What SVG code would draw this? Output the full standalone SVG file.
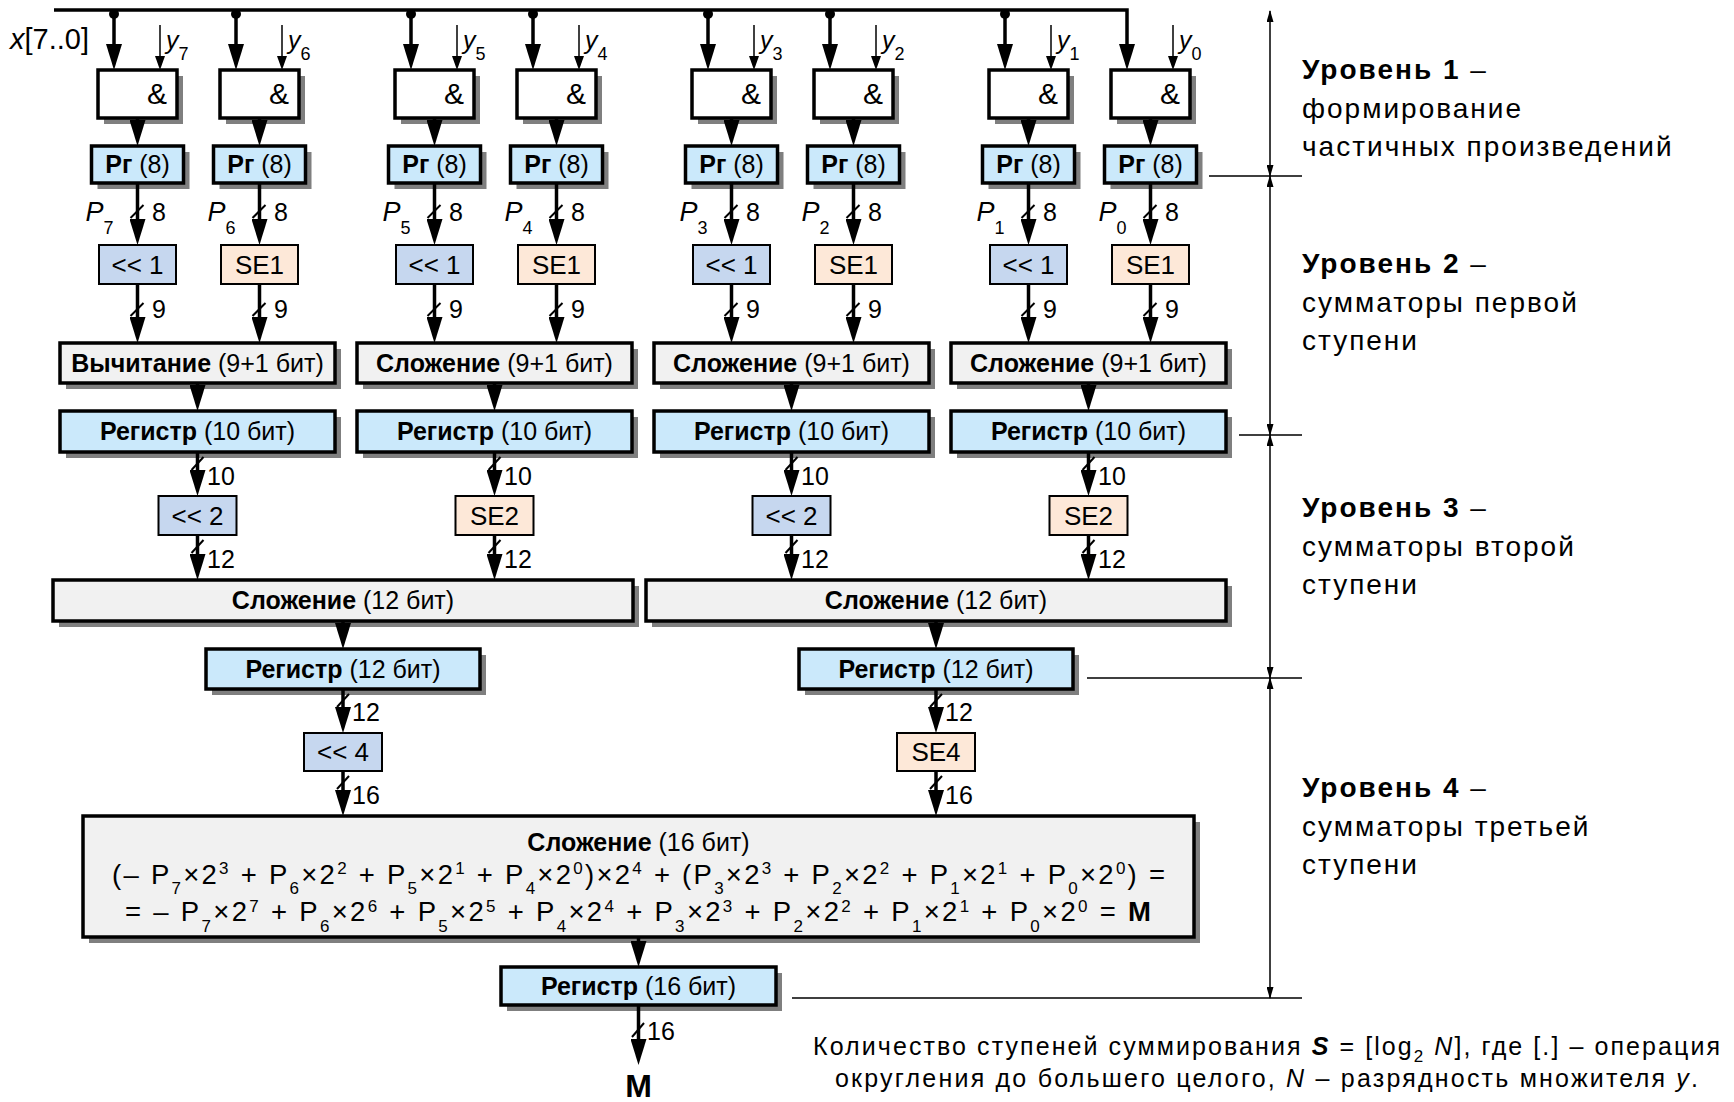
<svg xmlns="http://www.w3.org/2000/svg" width="1734" height="1102" viewBox="0 0 1734 1102">
<style>
text{font-family:"Liberation Sans",Arial,sans-serif;font-size:25px;fill:#000}
.c{text-anchor:middle}
.b{font-weight:bold}
.i{font-style:italic}
.sh{fill:#7f7f7f}
.bx{stroke:#000;stroke-width:3.5}
.sm{stroke:#000;stroke-width:2}
.and{fill:#fff}
.reg{fill:#cbe9fb}
.shl{fill:#c6d7ef}
.se{fill:#fde8d8}
.add{fill:#f1f1f1}
.amp{font-size:30px;text-anchor:middle}
.lb{font-size:26px}
.sub{font-size:18px}
.w{stroke:#000;stroke-width:3.5;fill:none;marker-end:url(#ah)}
.t{stroke:#000;stroke-width:1.5;fill:none;marker-end:url(#at)}
.sl{stroke:#000;stroke-width:2}
.dim{stroke:#000;stroke-width:1.5;fill:none}
.dv{stroke:#000;stroke-width:1.5;fill:none;marker-start:url(#ad);marker-end:url(#ad)}
.rl{font-size:28px;letter-spacing:2px}
.f{font-size:27.5px}
.fs{font-size:17px}
</style>
<defs>
<marker id="ah" markerUnits="userSpaceOnUse" viewBox="0 0 26 16" markerWidth="26" markerHeight="16" refX="6" refY="8" orient="auto"><path d="M0,0 L26,8 L0,16 Z" fill="#000"/></marker>
<marker id="at" markerUnits="userSpaceOnUse" viewBox="0 0 14 10" markerWidth="14" markerHeight="10" refX="3" refY="5" orient="auto"><path d="M0,0 L14,5 L0,10 Z" fill="#000"/></marker>
<marker id="ad" markerUnits="userSpaceOnUse" viewBox="0 0 12 7" markerWidth="12" markerHeight="7" refX="11" refY="3.5" orient="auto-start-reverse"><path d="M0,0 L12,3.5 L0,7 Z" fill="#000"/></marker>
</defs>

<!-- Level 1: AND gates -->
<g id="and7"><rect class="sh" x="104" y="76" width="79" height="48"/><rect class="bx and" x="98" y="70" width="79" height="48"/><text class="amp" x="157" y="104">&amp;</text></g>
<g id="and6"><rect class="sh" x="226" y="76" width="79" height="48"/><rect class="bx and" x="220" y="70" width="79" height="48"/><text class="amp" x="279" y="104">&amp;</text></g>
<g id="and5"><rect class="sh" x="401" y="76" width="79" height="48"/><rect class="bx and" x="395" y="70" width="79" height="48"/><text class="amp" x="454" y="104">&amp;</text></g>
<g id="and4"><rect class="sh" x="523" y="76" width="79" height="48"/><rect class="bx and" x="517" y="70" width="79" height="48"/><text class="amp" x="576" y="104">&amp;</text></g>
<g id="and3"><rect class="sh" x="698" y="76" width="79" height="48"/><rect class="bx and" x="692" y="70" width="79" height="48"/><text class="amp" x="751" y="104">&amp;</text></g>
<g id="and2"><rect class="sh" x="820" y="76" width="79" height="48"/><rect class="bx and" x="814" y="70" width="79" height="48"/><text class="amp" x="873" y="104">&amp;</text></g>
<g id="and1"><rect class="sh" x="995" y="76" width="79" height="48"/><rect class="bx and" x="989" y="70" width="79" height="48"/><text class="amp" x="1048" y="104">&amp;</text></g>
<g id="and0"><rect class="sh" x="1117" y="76" width="79" height="48"/><rect class="bx and" x="1111" y="70" width="79" height="48"/><text class="amp" x="1170" y="104">&amp;</text></g>

<!-- Level 1: registers -->
<g id="pr7"><rect class="sh" x="97.5" y="152" width="92" height="37"/><rect class="bx reg" x="91.5" y="146" width="92" height="37"/><text class="c" x="137.5" y="173"><tspan class="b">Рг</tspan> (8)</text></g>
<g id="pr6"><rect class="sh" x="219.5" y="152" width="92" height="37"/><rect class="bx reg" x="213.5" y="146" width="92" height="37"/><text class="c" x="259.5" y="173"><tspan class="b">Рг</tspan> (8)</text></g>
<g id="pr5"><rect class="sh" x="394.5" y="152" width="92" height="37"/><rect class="bx reg" x="388.5" y="146" width="92" height="37"/><text class="c" x="434.5" y="173"><tspan class="b">Рг</tspan> (8)</text></g>
<g id="pr4"><rect class="sh" x="516.5" y="152" width="92" height="37"/><rect class="bx reg" x="510.5" y="146" width="92" height="37"/><text class="c" x="556.5" y="173"><tspan class="b">Рг</tspan> (8)</text></g>
<g id="pr3"><rect class="sh" x="691.5" y="152" width="92" height="37"/><rect class="bx reg" x="685.5" y="146" width="92" height="37"/><text class="c" x="731.5" y="173"><tspan class="b">Рг</tspan> (8)</text></g>
<g id="pr2"><rect class="sh" x="813.5" y="152" width="92" height="37"/><rect class="bx reg" x="807.5" y="146" width="92" height="37"/><text class="c" x="853.5" y="173"><tspan class="b">Рг</tspan> (8)</text></g>
<g id="pr1"><rect class="sh" x="988.5" y="152" width="92" height="37"/><rect class="bx reg" x="982.5" y="146" width="92" height="37"/><text class="c" x="1028.5" y="173"><tspan class="b">Рг</tspan> (8)</text></g>
<g id="pr0"><rect class="sh" x="1110.5" y="152" width="92" height="37"/><rect class="bx reg" x="1104.5" y="146" width="92" height="37"/><text class="c" x="1150.5" y="173"><tspan class="b">Рг</tspan> (8)</text></g>

<!-- Level 2: shift / sign-extend -->
<g id="sh7"><rect class="sm shl" x="99" y="245" width="77" height="39"/><text class="c lb" x="137.5" y="274">&lt;&lt; 1</text></g>
<g id="se6"><rect class="sm se" x="221" y="245" width="77" height="39"/><text class="c lb" x="259.5" y="274">SE1</text></g>
<g id="sh5"><rect class="sm shl" x="396" y="245" width="77" height="39"/><text class="c lb" x="434.5" y="274">&lt;&lt; 1</text></g>
<g id="se4"><rect class="sm se" x="518" y="245" width="77" height="39"/><text class="c lb" x="556.5" y="274">SE1</text></g>
<g id="sh3"><rect class="sm shl" x="693" y="245" width="77" height="39"/><text class="c lb" x="731.5" y="274">&lt;&lt; 1</text></g>
<g id="se2"><rect class="sm se" x="815" y="245" width="77" height="39"/><text class="c lb" x="853.5" y="274">SE1</text></g>
<g id="sh1"><rect class="sm shl" x="990" y="245" width="77" height="39"/><text class="c lb" x="1028.5" y="274">&lt;&lt; 1</text></g>
<g id="se0"><rect class="sm se" x="1112" y="245" width="77" height="39"/><text class="c lb" x="1150.5" y="274">SE1</text></g>

<!-- Level 2: adders -->
<g id="add76"><rect class="sh" x="66" y="349" width="275" height="40"/><rect class="bx add" x="60" y="343" width="275" height="40"/><text class="c" x="197.5" y="372"><tspan class="b">Вычитание</tspan> (9+1 бит)</text></g>
<g id="add54"><rect class="sh" x="363" y="349" width="275" height="40"/><rect class="bx add" x="357" y="343" width="275" height="40"/><text class="c" x="494.5" y="372"><tspan class="b">Сложение</tspan> (9+1 бит)</text></g>
<g id="add32"><rect class="sh" x="660" y="349" width="275" height="40"/><rect class="bx add" x="654" y="343" width="275" height="40"/><text class="c" x="791.5" y="372"><tspan class="b">Сложение</tspan> (9+1 бит)</text></g>
<g id="add10"><rect class="sh" x="957" y="349" width="275" height="40"/><rect class="bx add" x="951" y="343" width="275" height="40"/><text class="c" x="1088.5" y="372"><tspan class="b">Сложение</tspan> (9+1 бит)</text></g>

<g id="reg76"><rect class="sh" x="66" y="417" width="275" height="41"/><rect class="bx reg" x="60" y="411" width="275" height="41"/><text class="c" x="197.5" y="440"><tspan class="b">Регистр</tspan> (10 бит)</text></g>
<g id="reg54"><rect class="sh" x="363" y="417" width="275" height="41"/><rect class="bx reg" x="357" y="411" width="275" height="41"/><text class="c" x="494.5" y="440"><tspan class="b">Регистр</tspan> (10 бит)</text></g>
<g id="reg32"><rect class="sh" x="660" y="417" width="275" height="41"/><rect class="bx reg" x="654" y="411" width="275" height="41"/><text class="c" x="791.5" y="440"><tspan class="b">Регистр</tspan> (10 бит)</text></g>
<g id="reg10"><rect class="sh" x="957" y="417" width="275" height="41"/><rect class="bx reg" x="951" y="411" width="275" height="41"/><text class="c" x="1088.5" y="440"><tspan class="b">Регистр</tspan> (10 бит)</text></g>

<!-- Level 3 -->
<g id="sh76"><rect class="sm shl" x="158.5" y="496" width="78" height="39"/><text class="c lb" x="197.5" y="525">&lt;&lt; 2</text></g>
<g id="se54"><rect class="sm se" x="455.5" y="496" width="78" height="39"/><text class="c lb" x="494.5" y="525">SE2</text></g>
<g id="sh32"><rect class="sm shl" x="752.5" y="496" width="78" height="39"/><text class="c lb" x="791.5" y="525">&lt;&lt; 2</text></g>
<g id="se10"><rect class="sm se" x="1049.5" y="496" width="78" height="39"/><text class="c lb" x="1088.5" y="525">SE2</text></g>

<g id="add7654"><rect class="sh" x="59" y="586" width="580" height="41"/><rect class="bx add" x="53" y="580" width="580" height="41"/><text class="c" x="343" y="609"><tspan class="b">Сложение</tspan> (12 бит)</text></g>
<g id="add3210"><rect class="sh" x="652" y="586" width="580" height="41"/><rect class="bx add" x="646" y="580" width="580" height="41"/><text class="c" x="936" y="609"><tspan class="b">Сложение</tspan> (12 бит)</text></g>

<g id="reg7654"><rect class="sh" x="212" y="655" width="274" height="40"/><rect class="bx reg" x="206" y="649" width="274" height="40"/><text class="c" x="343" y="678"><tspan class="b">Регистр</tspan> (12 бит)</text></g>
<g id="reg3210"><rect class="sh" x="805" y="655" width="274" height="40"/><rect class="bx reg" x="799" y="649" width="274" height="40"/><text class="c" x="936" y="678"><tspan class="b">Регистр</tspan> (12 бит)</text></g>

<!-- Level 4 -->
<g id="sh4"><rect class="sm shl" x="304" y="733" width="78" height="38"/><text class="c lb" x="343" y="761">&lt;&lt; 4</text></g>
<g id="se4b"><rect class="sm se" x="897" y="733" width="78" height="38"/><text class="c lb" x="936" y="761">SE4</text></g>

<g id="addfinal"><rect class="sh" x="89" y="822" width="1111" height="121"/><rect class="bx add" x="83" y="816" width="1111" height="121"/>
<text class="c" x="638.5" y="851"><tspan class="b">Сложение</tspan> (16 бит)</text>
<text class="f" x="112" y="884" textLength="1053" lengthAdjust="spacing">(– P<tspan class="fs" dy="10">7</tspan><tspan dy="-10">×2</tspan><tspan class="fs" dy="-10">3</tspan><tspan dy="10"> + P</tspan><tspan class="fs" dy="10">6</tspan><tspan dy="-10">×2</tspan><tspan class="fs" dy="-10">2</tspan><tspan dy="10"> + P</tspan><tspan class="fs" dy="10">5</tspan><tspan dy="-10">×2</tspan><tspan class="fs" dy="-10">1</tspan><tspan dy="10"> + P</tspan><tspan class="fs" dy="10">4</tspan><tspan dy="-10">×2</tspan><tspan class="fs" dy="-10">0</tspan><tspan dy="10">)×2</tspan><tspan class="fs" dy="-10">4</tspan><tspan dy="10"> + (P</tspan><tspan class="fs" dy="10">3</tspan><tspan dy="-10">×2</tspan><tspan class="fs" dy="-10">3</tspan><tspan dy="10"> + P</tspan><tspan class="fs" dy="10">2</tspan><tspan dy="-10">×2</tspan><tspan class="fs" dy="-10">2</tspan><tspan dy="10"> + P</tspan><tspan class="fs" dy="10">1</tspan><tspan dy="-10">×2</tspan><tspan class="fs" dy="-10">1</tspan><tspan dy="10"> + P</tspan><tspan class="fs" dy="10">0</tspan><tspan dy="-10">×2</tspan><tspan class="fs" dy="-10">0</tspan><tspan dy="10">) =</tspan></text>
<text class="f" x="125" y="921" textLength="1026" lengthAdjust="spacing">= – P<tspan class="fs" dy="11">7</tspan><tspan dy="-11">×2</tspan><tspan class="fs" dy="-9">7</tspan><tspan dy="9"> + P</tspan><tspan class="fs" dy="11">6</tspan><tspan dy="-11">×2</tspan><tspan class="fs" dy="-9">6</tspan><tspan dy="9"> + P</tspan><tspan class="fs" dy="11">5</tspan><tspan dy="-11">×2</tspan><tspan class="fs" dy="-9">5</tspan><tspan dy="9"> + P</tspan><tspan class="fs" dy="11">4</tspan><tspan dy="-11">×2</tspan><tspan class="fs" dy="-9">4</tspan><tspan dy="9"> + P</tspan><tspan class="fs" dy="11">3</tspan><tspan dy="-11">×2</tspan><tspan class="fs" dy="-9">3</tspan><tspan dy="9"> + P</tspan><tspan class="fs" dy="11">2</tspan><tspan dy="-11">×2</tspan><tspan class="fs" dy="-9">2</tspan><tspan dy="9"> + P</tspan><tspan class="fs" dy="11">1</tspan><tspan dy="-11">×2</tspan><tspan class="fs" dy="-9">1</tspan><tspan dy="9"> + P</tspan><tspan class="fs" dy="11">0</tspan><tspan dy="-11">×2</tspan><tspan class="fs" dy="-9">0</tspan><tspan dy="9"> = </tspan><tspan class="b">M</tspan></text>
</g>

<g id="reg16"><rect class="sh" x="507" y="973" width="275" height="38"/><rect class="bx reg" x="501" y="967" width="275" height="38"/><text class="c" x="638.5" y="995"><tspan class="b">Регистр</tspan> (16 бит)</text></g>

<!-- Connectors -->
<g id="connectors">
<path class="w" d="M54,10 H1127 V50"/>
<path class="w" d="M114,10 V50"/><path class="w" d="M236,10 V50"/><path class="w" d="M411,10 V50"/><path class="w" d="M533,10 V50"/>
<path class="w" d="M708,10 V50"/><path class="w" d="M830,10 V50"/><path class="w" d="M1005,10 V50"/>
<g fill="#000"><circle cx="114" cy="14" r="5"/><circle cx="236" cy="14" r="5"/><circle cx="411" cy="14" r="5"/><circle cx="533" cy="14" r="5"/><circle cx="708" cy="14" r="5"/><circle cx="830" cy="14" r="5"/><circle cx="1005" cy="14" r="5"/></g>
<path class="t" d="M160,25 V59"/><path class="t" d="M282,25 V59"/><path class="t" d="M457,25 V59"/><path class="t" d="M579,25 V59"/>
<path class="t" d="M754,25 V59"/><path class="t" d="M876,25 V59"/><path class="t" d="M1051,25 V59"/><path class="t" d="M1173,25 V59"/>

<path class="w" d="M137.5,118 V126"/><path class="w" d="M259.5,118 V126"/><path class="w" d="M434.5,118 V126"/><path class="w" d="M556.5,118 V126"/>
<path class="w" d="M731.5,118 V126"/><path class="w" d="M853.5,118 V126"/><path class="w" d="M1028.5,118 V126"/><path class="w" d="M1150.5,118 V126"/>

<path class="w" d="M137.5,183 V225"/><path class="w" d="M259.5,183 V225"/><path class="w" d="M434.5,183 V225"/><path class="w" d="M556.5,183 V225"/>
<path class="w" d="M731.5,183 V225"/><path class="w" d="M853.5,183 V225"/><path class="w" d="M1028.5,183 V225"/><path class="w" d="M1150.5,183 V225"/>

<path class="w" d="M137.5,284 V323"/><path class="w" d="M259.5,284 V323"/><path class="w" d="M434.5,284 V323"/><path class="w" d="M556.5,284 V323"/>
<path class="w" d="M731.5,284 V323"/><path class="w" d="M853.5,284 V323"/><path class="w" d="M1028.5,284 V323"/><path class="w" d="M1150.5,284 V323"/>

<path class="w" d="M197.5,383 V391"/><path class="w" d="M494.5,383 V391"/><path class="w" d="M791.5,383 V391"/><path class="w" d="M1088.5,383 V391"/>
<path class="w" d="M197.5,452 V476"/><path class="w" d="M494.5,452 V476"/><path class="w" d="M791.5,452 V476"/><path class="w" d="M1088.5,452 V476"/>
<path class="w" d="M197.5,535 V560"/><path class="w" d="M494.5,535 V560"/><path class="w" d="M791.5,535 V560"/><path class="w" d="M1088.5,535 V560"/>

<path class="w" d="M343,621 V629"/><path class="w" d="M936,621 V629"/>
<path class="w" d="M343,689 V713"/><path class="w" d="M936,689 V713"/>
<path class="w" d="M343,771 V796"/><path class="w" d="M936,771 V796"/>
<path class="w" d="M638.5,937 V947"/>
<path class="w" d="M638.5,1005 V1045"/>

<!-- bus width slashes -->
<g class="sl">
<line x1="130.5" y1="218" x2="143.5" y2="205"/><line x1="252.5" y1="218" x2="265.5" y2="205"/><line x1="427.5" y1="218" x2="440.5" y2="205"/><line x1="549.5" y1="218" x2="562.5" y2="205"/>
<line x1="724.5" y1="218" x2="737.5" y2="205"/><line x1="846.5" y1="218" x2="859.5" y2="205"/><line x1="1021.5" y1="218" x2="1034.5" y2="205"/><line x1="1143.5" y1="218" x2="1156.5" y2="205"/>
<line x1="130.5" y1="316" x2="143.5" y2="303"/><line x1="252.5" y1="316" x2="265.5" y2="303"/><line x1="427.5" y1="316" x2="440.5" y2="303"/><line x1="549.5" y1="316" x2="562.5" y2="303"/>
<line x1="724.5" y1="316" x2="737.5" y2="303"/><line x1="846.5" y1="316" x2="859.5" y2="303"/><line x1="1021.5" y1="316" x2="1034.5" y2="303"/><line x1="1143.5" y1="316" x2="1156.5" y2="303"/>
<line x1="191.5" y1="470" x2="203.5" y2="457"/><line x1="488.5" y1="470" x2="500.5" y2="457"/><line x1="785.5" y1="470" x2="797.5" y2="457"/><line x1="1082.5" y1="470" x2="1094.5" y2="457"/>
<line x1="191.5" y1="553" x2="203.5" y2="540"/><line x1="488.5" y1="553" x2="500.5" y2="540"/><line x1="785.5" y1="553" x2="797.5" y2="540"/><line x1="1082.5" y1="553" x2="1094.5" y2="540"/>
<line x1="337" y1="707" x2="349" y2="694"/><line x1="930" y1="707" x2="942" y2="694"/>
<line x1="337" y1="789" x2="349" y2="776"/><line x1="930" y1="789" x2="942" y2="776"/>
<line x1="632" y1="1037" x2="644" y2="1023"/>
</g>

<!-- level dimension lines -->
<path class="dv" d="M1270,11 V176"/>
<path class="dv" d="M1270,176 V435"/>
<path class="dv" d="M1270,435 V678"/>
<path class="dv" d="M1270,678 V998"/>
<path class="dim" d="M1209,176 H1302 M1239,435 H1302 M1087,678 H1302 M792,998 H1302"/>
</g>

<!-- input labels -->
<g id="labels">
<text x="10" y="49" style="font-size:29px"><tspan class="i">x</tspan>[7..0]</text>
<g class="lb">
<text x="166" y="49"><tspan class="i">y</tspan><tspan class="sub" dy="11">7</tspan></text>
<text x="288" y="49"><tspan class="i">y</tspan><tspan class="sub" dy="11">6</tspan></text>
<text x="463" y="49"><tspan class="i">y</tspan><tspan class="sub" dy="11">5</tspan></text>
<text x="585" y="49"><tspan class="i">y</tspan><tspan class="sub" dy="11">4</tspan></text>
<text x="760" y="49"><tspan class="i">y</tspan><tspan class="sub" dy="11">3</tspan></text>
<text x="882" y="49"><tspan class="i">y</tspan><tspan class="sub" dy="11">2</tspan></text>
<text x="1057" y="49"><tspan class="i">y</tspan><tspan class="sub" dy="11">1</tspan></text>
<text x="1179" y="49"><tspan class="i">y</tspan><tspan class="sub" dy="11">0</tspan></text>

<text x="85.5" y="221" style="font-size:27px"><tspan class="i">P</tspan><tspan class="sub" dy="13">7</tspan></text>
<text x="207.5" y="221" style="font-size:27px"><tspan class="i">P</tspan><tspan class="sub" dy="13">6</tspan></text>
<text x="382.5" y="221" style="font-size:27px"><tspan class="i">P</tspan><tspan class="sub" dy="13">5</tspan></text>
<text x="504.5" y="221" style="font-size:27px"><tspan class="i">P</tspan><tspan class="sub" dy="13">4</tspan></text>
<text x="679.5" y="221" style="font-size:27px"><tspan class="i">P</tspan><tspan class="sub" dy="13">3</tspan></text>
<text x="801.5" y="221" style="font-size:27px"><tspan class="i">P</tspan><tspan class="sub" dy="13">2</tspan></text>
<text x="976.5" y="221" style="font-size:27px"><tspan class="i">P</tspan><tspan class="sub" dy="13">1</tspan></text>
<text x="1098.5" y="221" style="font-size:27px"><tspan class="i">P</tspan><tspan class="sub" dy="13">0</tspan></text>

<text x="152" y="221">8</text><text x="274" y="221">8</text><text x="449" y="221">8</text><text x="571" y="221">8</text>
<text x="746" y="221">8</text><text x="868" y="221">8</text><text x="1043" y="221">8</text><text x="1165" y="221">8</text>
<text x="152" y="318">9</text><text x="274" y="318">9</text><text x="449" y="318">9</text><text x="571" y="318">9</text>
<text x="746" y="318">9</text><text x="868" y="318">9</text><text x="1043" y="318">9</text><text x="1165" y="318">9</text>
<text x="207" y="485">10</text><text x="504" y="485">10</text><text x="801" y="485">10</text><text x="1098" y="485">10</text>
<text x="207" y="568">12</text><text x="504" y="568">12</text><text x="801" y="568">12</text><text x="1098" y="568">12</text>
<text x="352" y="721">12</text><text x="945" y="721">12</text>
<text x="352" y="804">16</text><text x="945" y="804">16</text>
<text x="647" y="1040">16</text>
</g>
<text class="c b" x="638.5" y="1097" style="font-size:32px">M</text>
</g>

<!-- level descriptions -->
<g id="levels">
<text class="rl" x="1302" y="79"><tspan class="b">Уровень 1</tspan> –</text>
<text class="rl" x="1302" y="117.5">формирование</text>
<text class="rl" x="1302" y="156">частичных произведений</text>
<text class="rl" x="1302" y="273"><tspan class="b">Уровень 2</tspan> –</text>
<text class="rl" x="1302" y="311.5">сумматоры первой</text>
<text class="rl" x="1302" y="350">ступени</text>
<text class="rl" x="1302" y="517"><tspan class="b">Уровень 3</tspan> –</text>
<text class="rl" x="1302" y="555.5">сумматоры второй</text>
<text class="rl" x="1302" y="594">ступени</text>
<text class="rl" x="1302" y="797"><tspan class="b">Уровень 4</tspan> –</text>
<text class="rl" x="1302" y="835.5">сумматоры третьей</text>
<text class="rl" x="1302" y="874">ступени</text>
</g>

<g id="note">
<text x="813" y="1055" textLength="907" lengthAdjust="spacing">Количество ступеней суммирования <tspan class="b i">S</tspan> = [log<tspan style="font-size:17px" dy="7">2</tspan><tspan dy="-7"> </tspan><tspan class="i">N</tspan>], где [.] – операция</text>
<text x="835" y="1087" textLength="863" lengthAdjust="spacing">округления до большего целого, <tspan class="i">N</tspan> – разрядность множителя <tspan class="i">y</tspan>.</text>
</g>
</svg>
